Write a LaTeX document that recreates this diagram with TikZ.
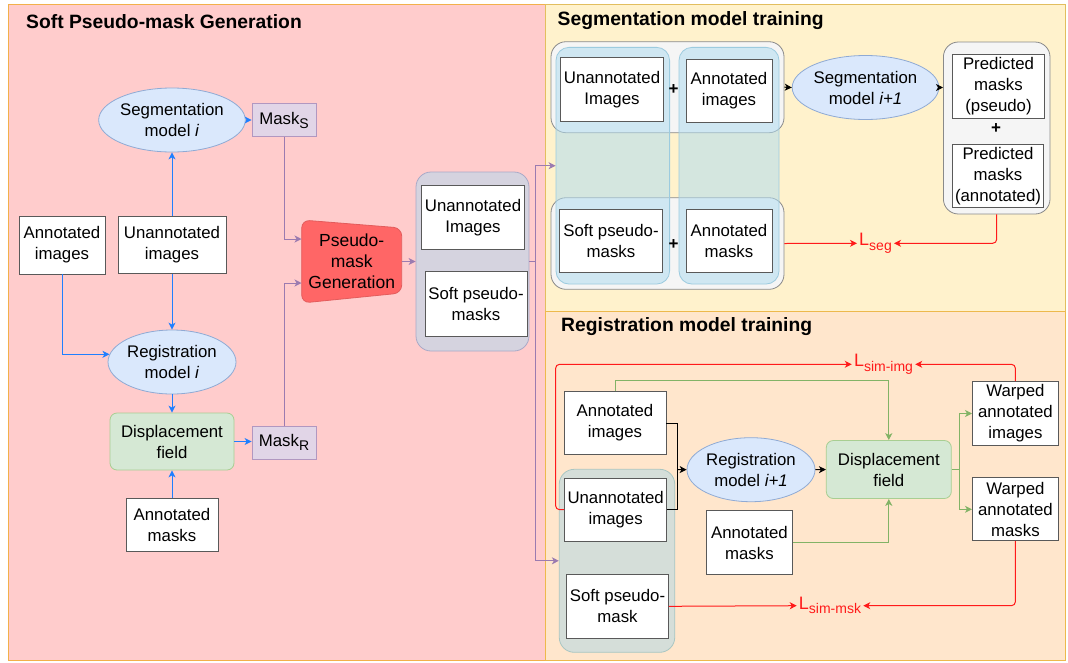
\documentclass[tikz,border=0pt]{standalone}
\usepackage{fontspec}
\setmainfont{Liberation Sans}
\usetikzlibrary{shapes.geometric,arrows.meta,calc}

\definecolor{pinkbg}{HTML}{FFCCCC}
\definecolor{pinkedge}{HTML}{F2B04A}
\definecolor{yelbg}{HTML}{FFF2CC}
\definecolor{yeledge}{HTML}{E2BE5E}
\definecolor{peachbg}{HTML}{FFE6CC}
\definecolor{peachedge}{HTML}{EDB94C}
\definecolor{ellfill}{HTML}{DAE8FC}
\definecolor{elledge}{HTML}{8FAAD4}
\definecolor{dispfill}{HTML}{D5E8D4}
\definecolor{dispedge}{HTML}{A8CE92}
\definecolor{maskfill}{HTML}{E1D5E7}
\definecolor{maskedge}{HTML}{B197C0}
\definecolor{poolfill}{HTML}{D5D3DF}
\definecolor{pooledge}{HTML}{A9A9C7}
\definecolor{greyfill}{HTML}{F5F5F5}
\definecolor{greyedge}{HTML}{8A8A8A}
\definecolor{colfill}{HTML}{B1DDF0}
\definecolor{coledge}{HTML}{9CCBDF}
\definecolor{regcfill}{HTML}{D5DED9}
\definecolor{regcedge}{HTML}{A9C6C2}
\definecolor{pmgfill}{HTML}{FF6666}
\definecolor{pmgedge}{HTML}{E25C5C}
\definecolor{bluline}{HTML}{1F7FFF}
\definecolor{purline}{HTML}{9B7BB0}
\definecolor{grnline}{HTML}{82B366}
\definecolor{lossred}{HTML}{FF1A1A}

\newcommand{\lowsub}[1]{\raisebox{-0.45ex}{\fontsize{14}{14}\selectfont #1}}

\begin{document}
\begin{tikzpicture}[x=1pt,y=-1pt,
  txt/.style={font=\fontsize{16.8}{21}\selectfont, align=center, inner sep=1pt},
  wbox/.style={txt, draw=black!65, fill=white, line width=0.8pt},
  ell/.style={txt, ellipse, draw=elledge, fill=ellfill, line width=0.8pt,
              minimum width=128pt, minimum height=64pt, inner sep=0pt},
  dispbox/.style={txt, draw=dispedge, fill=dispfill, rounded corners=7pt, line width=0.8pt},
  maskbox/.style={txt, draw=maskedge, fill=maskfill, line width=0.8pt,
                  minimum width=64pt, minimum height=33pt},
  gcont/.style={draw=greyedge, fill=greyfill, rounded corners=15pt, line width=0.8pt},
  colbox/.style={draw=coledge, fill=colfill, fill opacity=0.55, rounded corners=13pt, line width=0.8pt},
  plus/.style={font=\fontsize{17}{17}\selectfont\bfseries, inner sep=0pt},
  loss/.style={font=\fontsize{18}{18}\selectfont, text=lossred, inner sep=2pt},
  ptitle/.style={font=\fontsize{19.3}{22}\selectfont\bfseries, anchor=west, inner sep=0pt},
  tip/.style={-{Stealth[length=7pt,width=7pt,inset=2pt]}},
  blu/.style={tip, draw=bluline, line width=1pt},
  pur/.style={tip, draw=purline, line width=1pt},
  purplain/.style={draw=purline, line width=1pt},
  blk/.style={tip, draw=black, line width=1pt},
  blkplain/.style={draw=black, line width=1pt},
  grn/.style={tip, draw=grnline, line width=1pt},
  grnplain/.style={draw=grnline, line width=1pt},
  redarr/.style={tip, draw=lossred, line width=1pt, rounded corners=4pt}]

\useasboundingbox (0,0) rectangle (1068,662);

% ---------- panels ----------
\draw[fill=pinkbg, draw=pinkedge, line width=1pt] (8,4) rectangle (545,660);
\draw[fill=yelbg, draw=yeledge, line width=1pt] (545,4) rectangle (1065,311);
\draw[fill=peachbg, draw=peachedge, line width=1pt] (545,311) rectangle (1065,660);

\node[ptitle] (t1) at (26,22) {Soft Pseudo-mask Generation};
\node[ptitle] (t2) at (557.5,20.7) {Segmentation model training};
\node[ptitle] (t3) at (561,327) {Registration model training};

% ---------- soft pseudo-mask generation ----------
\node[ell] (segI) at (172,120) {Segmentation\\model \textit{i}};
\node[maskbox] (mS) at (284,120) {Mask\lowsub{S}};
\node[wbox, minimum width=86pt, minimum height=58pt] (annImgL) at (62,245) {Annotated\\images};
\node[wbox, minimum width=108pt, minimum height=57pt] (unImgL) at (172,245) {Unannotated\\images};
\node[ell] (regI) at (172,362) {Registration\\model \textit{i}};
\node[dispbox, minimum width=124pt, minimum height=57pt] (dispL) at (172,441.5) {Displacement\\field};
\node[maskbox] (mR) at (284,442.5) {Mask\lowsub{R}};
\node[wbox, minimum width=92pt, minimum height=53pt] (annMskL) at (172,525) {Annotated\\masks};

% pseudo-mask generation block (tapered shape)
\draw[fill=pmgfill, draw=pmgedge, line width=0.8pt, rounded corners=8pt]
  (301.7,220) -- (401.7,228) -- (401.7,293) -- (301.7,303) -- cycle;
\node[txt, font=\fontsize{17.5}{21}\selectfont, minimum width=100pt, minimum height=83pt] (pmg) at (351.7,261.5) {Pseudo-\\mask\\Generation};

% output pool
\node[draw=pooledge, fill=poolfill, rounded corners=15pt, line width=0.8pt,
      minimum width=113pt, minimum height=179pt] (pool) at (472.5,261.5) {};
\node[wbox, minimum width=103pt, minimum height=64pt] (poolUn) at (473,217.5) {Unannotated\\Images};
\node[wbox, minimum width=102pt, minimum height=65pt] (poolSoft) at (476,304) {Soft pseudo-\\masks};

% connectors (left)
\draw[blu] (segI.east) -- (mS.west);
\draw[blu] (unImgL.north) -- (segI.south);
\draw[blu] (unImgL.south) -- (regI.north);
\draw[blu] (annImgL.south) |- (regI.173.6);
\draw[blu] (regI.south) -- (dispL.north);
\draw[blu] (dispL.east) -- (dispL.east -| mR.west);
\draw[blu] (annMskL.north) -- (dispL.south);
\draw[pur] (mS.south) |- ([yshift=22.5pt]pmg.west);
\draw[pur] (mR.north) |- ([yshift=-21.5pt]pmg.west);
\draw[pur] (pmg.east) -- (pool.west);

% ---------- segmentation model training ----------
\node[gcont, minimum width=233pt, minimum height=91pt] (segTop) at (667.5,87.2) {};
\node[gcont, minimum width=233pt, minimum height=91.6pt] (segBot) at (667.5,243.5) {};
\node[colbox, minimum width=113.6pt, minimum height=236.7pt] (colA) at (612.8,165.7) {};
\node[colbox, minimum width=100pt, minimum height=236.7pt] (colB) at (729,165.7) {};
\node[wbox, minimum width=103pt, minimum height=64pt] (segUn) at (612,89.5) {Unannotated\\Images};
\node[plus] (p1) at (673.7,89.3) {+};
\node[wbox, minimum width=86pt, minimum height=63pt] (segAnnImg) at (729,91) {Annotated\\images};
\node[wbox, minimum width=103pt, minimum height=63pt] (segSoft) at (611,241) {Soft pseudo-\\masks};
\node[plus] (p2) at (673.7,244.3) {+};
\node[wbox, minimum width=86pt, minimum height=63pt] (segAnnMsk) at (729,241) {Annotated\\masks};
\node[ell] (segI1) at (865.5,87.5) {Segmentation\\model \textit{i+1}};
\node[gcont, minimum width=106.6pt, minimum height=172pt] (pred) at (996.7,128) {};
\node[wbox, minimum width=92pt, minimum height=64pt] (predP) at (998.5,86.3) {Predicted\\masks\\(pseudo)};
\node[plus] (p3) at (996,129) {+};
\node[wbox, minimum width=91pt, minimum height=63pt] (predA) at (998,175.7) {Predicted\\masks\\(annotated)};
\node[loss] (Lseg) at (875.5,243.3) {L\lowsub{seg}};

\draw[blk] (segTop.east) -- (segI1.west);
\draw[blk] (segI1.east) -- (segI1.east -| pred.west);
\draw[redarr] (segBot.east) -- (Lseg.west);
\draw[redarr] (pred.south) |- (Lseg.east);

% ---------- registration model training ----------
\node[draw=regcedge, fill=regcfill, rounded corners=15pt, line width=0.8pt,
      minimum width=115.5pt, minimum height=183pt] (regC) at (617,560.8) {};
\node[wbox, minimum width=102pt, minimum height=63pt] (regAnnImg) at (615,423) {Annotated\\images};
\node[wbox, minimum width=102pt, minimum height=63pt] (regUn) at (615.6,509.7) {Unannotated\\images};
\node[wbox, minimum width=102pt, minimum height=64pt] (regSoft) at (617.5,606.3) {Soft pseudo-\\mask};
\node[ell] (regI1) at (751,469.7) {Registration\\model \textit{i+1}};
\node[dispbox, minimum width=125pt, minimum height=58pt] (dispR) at (888.8,469.5) {Displacement\\field};
\node[wbox, minimum width=86pt, minimum height=64pt] (regAnnMsk) at (749.4,542.5) {Annotated\\masks};
\node[wbox, minimum width=86pt, minimum height=64pt] (warpImg) at (1015.4,413.5) {Warped\\annotated\\images};
\node[wbox, minimum width=86pt, minimum height=63pt] (warpMsk) at (1015.4,509.3) {Warped\\annotated\\masks};
\node[loss] (Limg) at (883.5,364.3) {L\lowsub{sim-img}};
\node[loss] (Lmsk) at (830,605.7) {L\lowsub{sim-msk}};

\coordinate (jn) at (677.4,469.5);
\draw[blkplain] (regAnnImg.east) -| (jn);
\draw[blkplain] (regUn.east) -| (jn);
\draw[blk] (jn) -- (regI1.west);
\draw[blk] (regI1.east) -- (dispR.west);
\draw[grn] (regAnnImg.north) -- ++(0,-10.7) -| (dispR.north);
\draw[grn] (regAnnMsk.east) -| (dispR.south);
\coordinate (gj) at (959.2,469.5);
\draw[grnplain] (dispR.east) -- (gj);
\draw[grn] (gj) |- (warpImg.west);
\draw[grn] (gj) |- (warpMsk.west);
\draw[redarr] (regUn.west) -- ++(-8.6,0) |- (Limg.west);
\draw[redarr] (warpImg.north) |- (Limg.east);
\draw[redarr] (regSoft.east) -- (Lmsk.west);
\draw[redarr] (warpMsk.south) |- (Lmsk.east);

% pseudo-masks feed both training stages
\coordinate (pj) at (535,261.5);
\draw[purplain] (pool.east) -- (pj);
\draw[pur] (pj) |- (colA.west);
\draw[pur] (pj) |- (regC.west);
\end{tikzpicture}
\end{document}
